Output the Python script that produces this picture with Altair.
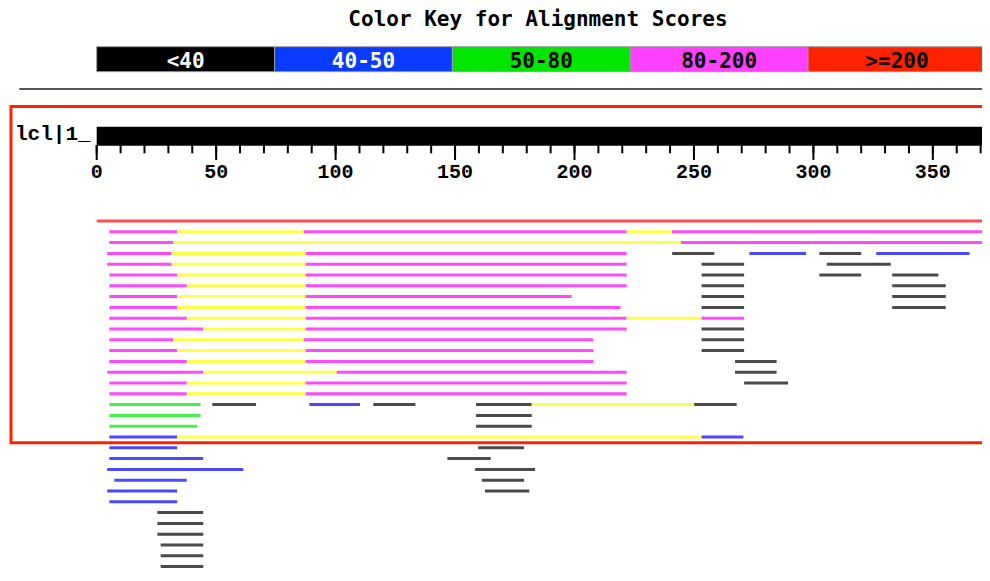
import altair as alt
import pandas as pd

# ---------------- data ----------------
title_text = "Color Key for Alignment Scores"
legend_labels = ["<40", "40-50", "50-80", "80-200", ">=200"]
query_name = "lcl|1_"
query_length = 376
major_ticks = [0, 50, 100, 150, 200, 250, 300, 350]
minor_ticks = list(range(0, 371, 10))

# one line per hit row (row 0 = best hit)
seg_row = [
    0,
    1, 1, 1, 1, 1,
    2, 2, 2,
    3, 3, 3, 3, 3, 3, 3,
    4, 4, 4, 4, 4,
    5, 5, 5, 5, 5, 5,
    6, 6, 6, 6, 6,
    7, 7, 7, 7, 7,
    8, 8, 8, 8, 8,
    9, 9, 9, 9, 9,
    10, 10, 10, 10,
    11, 11, 11, 11,
    12, 12, 12, 12,
    13, 13, 13, 13,
    14, 14, 14, 14,
    15, 15, 15, 15,
    16, 16, 16,
    17, 17, 17, 17, 17, 17, 17,
    18, 18,
    19, 19,
    20, 20, 20,
    21, 21,
    22, 22,
    23, 23,
    24, 24,
    25, 25,
    26,
    27, 28, 29, 30, 31, 32, 33,
]
seg_start = [
    0,
    5.3, 33.7, 86.6, 221.8, 240.8,
    5.3, 32.1, 244.6,
    4.4, 31.4, 87.5, 240.9, 273.2, 302.5, 326.3,
    4.4, 31.4, 87.5, 253.2, 305.6,
    5.3, 33.7, 87.5, 253.2, 302.5, 333.0,
    5.3, 37.7, 87.5, 253.2, 333.0,
    5.3, 33.7, 87.5, 253.2, 333.0,
    5.3, 33.7, 87.5, 253.2, 333.0,
    5.3, 37.7, 87.5, 221.8, 253.2,
    5.3, 44.6, 87.5, 253.2,
    5.3, 32.1, 86.6, 253.2,
    5.3, 33.7, 87.5, 253.2,
    5.3, 37.7, 87.5, 267.2,
    4.4, 44.6, 100.5, 267.2,
    5.3, 37.7, 87.5, 271.0,
    5.3, 37.7, 87.5,
    5.3, 48.4, 89.0, 115.8, 158.8, 182.1, 250.1,
    5.3, 158.8,
    5.3, 158.8,
    5.3, 33.7, 253.2,
    5.3, 159.7,
    5.3, 146.8,
    4.4, 158.4,
    7.4, 161.2,
    4.4, 162.5,
    5.3,
    25.4, 25.4, 25.4, 26.8, 26.8, 26.8, 27.5,
]
seg_end = [
    373,
    33.7, 86.6, 221.8, 240.8, 373,
    32.1, 244.6, 373,
    31.4, 87.5, 221.8, 258.5, 296.9, 320.0, 365.3,
    31.4, 87.5, 221.8, 271.0, 332.4,
    33.7, 87.5, 221.8, 271.0, 320.0, 352.3,
    37.7, 87.5, 221.8, 271.0, 355.4,
    33.7, 87.5, 198.8, 271.0, 355.4,
    33.7, 87.5, 219.3, 271.0, 355.4,
    37.7, 87.5, 221.8, 253.2, 271.0,
    44.6, 87.5, 221.8, 271.0,
    32.1, 86.6, 207.9, 271.0,
    33.7, 87.5, 207.9, 271.0,
    37.7, 87.5, 207.9, 284.6,
    44.6, 100.5, 221.8, 284.6,
    37.7, 87.5, 221.8, 289.4,
    37.7, 87.5, 221.8,
    43.5, 66.7, 110.2, 133.4, 182.1, 250.1, 267.9,
    43.5, 182.1,
    42.1, 182.1,
    33.7, 253.2, 270.7,
    33.7, 178.9,
    44.6, 164.9,
    61.4, 183.5,
    37.7, 178.9,
    33.7, 181.1,
    33.7,
    44.6, 44.6, 44.6, 44.6, 44.6, 44.6, 49.1,
]
seg_class = [
    ">=200",
    "80-200", "link", "80-200", "link", "80-200",
    "80-200", "link", "80-200",
    "80-200", "link", "80-200", "<40", "40-50", "<40", "40-50",
    "80-200", "link", "80-200", "<40", "<40",
    "80-200", "link", "80-200", "<40", "<40", "<40",
    "80-200", "link", "80-200", "<40", "<40",
    "80-200", "link", "80-200", "<40", "<40",
    "80-200", "link", "80-200", "<40", "<40",
    "80-200", "link", "80-200", "link", "80-200",
    "80-200", "link", "80-200", "<40",
    "80-200", "link", "80-200", "<40",
    "80-200", "link", "80-200", "<40",
    "80-200", "link", "80-200", "<40",
    "80-200", "link", "80-200", "<40",
    "80-200", "link", "80-200", "<40",
    "80-200", "link", "80-200",
    "50-80", "<40", "40-50", "<40", "<40", "link", "<40",
    "50-80", "<40",
    "50-80", "<40",
    "40-50", "link", "40-50",
    "40-50", "<40",
    "40-50", "<40",
    "40-50", "<40",
    "40-50", "<40",
    "40-50", "<40",
    "40-50",
    "<40", "<40", "<40", "<40", "<40", "<40", "<40",
]

# ---------------- styles / layout ----------------
key_fill = {"<40": "#000000", "40-50": "#0a3cff", "50-80": "#00e600",
            "80-200": "#ff40ff", ">=200": "#ff2200"}
key_text = {"<40": "white", "40-50": "white", "50-80": "black",
            "80-200": "black", ">=200": "black"}
line_color = {"<40": "#4a4a4a", "40-50": "#4848ff", "50-80": "#48ee48",
              "80-200": "#ff48ff", ">=200": "#ff5050", "link": "#ffff48"}

W, H = 974, 560
PX_PER_UNIT = 2.389
X0 = 88.7
ROW0, ROW_STEP = 213.0, 10.8
x_dom = [-X0 / PX_PER_UNIT, (W - X0) / PX_PER_UNIT]
y_dom = [-ROW0 / ROW_STEP, (H - ROW0) / ROW_STEP]
xs = alt.Scale(domain=x_dom, nice=False, zero=False)
ys = alt.Scale(domain=y_dom, nice=False, zero=False, reverse=True)
KEY_SPAN = 372.2
step = KEY_SPAN / len(legend_labels)

key_df = pd.DataFrame({
    "label": legend_labels,
    "start": [i * step for i in range(len(legend_labels))],
    "end": [(i + 1) * step for i in range(len(legend_labels))],
})
key_df["mid"] = (key_df["start"] + key_df["end"]) / 2
key_df["fill"] = key_df["label"].map(key_fill)
key_df["tc"] = key_df["label"].map(key_text)

seg_df = pd.DataFrame({"row": seg_row, "start": seg_start, "end": seg_end,
                       "cls": seg_class})
seg_df["hex"] = seg_df["cls"].map(line_color)

one = pd.DataFrame({"t": [title_text]})
qdf = pd.DataFrame({"name": [query_name], "s": [0], "e": [query_length]})
major_df = pd.DataFrame({"v": major_ticks, "lab": [str(v) for v in major_ticks]})
minor_df = pd.DataFrame({"v": minor_ticks})

MONO = "DejaVu Sans Mono"
SERIFMONO = "Liberation Mono"

title = alt.Chart(one).mark_text(font=MONO, fontWeight="bold", fontSize=21,
                                 align="center", baseline="alphabetic",
                                 color="black").encode(
    x=alt.value(530), y=alt.value(17.7), text="t:N")

key_rect = alt.Chart(key_df).mark_rect(stroke="#9a9a9a", strokeWidth=1).encode(
    x=alt.X("start:Q", scale=xs, axis=None), x2="end:Q",
    y=alt.value(38.7), y2=alt.value(63.7),
    color=alt.Color("fill:N", scale=None))

key_txt = alt.Chart(key_df).mark_text(font=MONO, fontWeight="bold", fontSize=21,
                                      align="center", baseline="alphabetic").encode(
    x=alt.X("mid:Q", scale=xs, axis=None), y=alt.value(60),
    text="label:N", color=alt.Color("tc:N", scale=None))

sep = alt.Chart(one).mark_rule(color="#555555", strokeWidth=2).encode(
    x=alt.value(11.3), x2=alt.value(W), y=alt.value(81))

frame = alt.Chart(one).mark_rect(fillOpacity=0, stroke="#ff2200", strokeWidth=3).encode(
    x=alt.value(3), x2=alt.value(W + 30), y=alt.value(98.5), y2=alt.value(434.7))

qname = alt.Chart(qdf).mark_text(font=SERIFMONO, fontWeight="bold", fontSize=21,
                                 align="left", baseline="alphabetic",
                                 color="black").encode(
    x=alt.value(7), y=alt.value(132), text="name:N")

qbar = alt.Chart(qdf).mark_rect(color="black").encode(
    x=alt.X("s:Q", scale=xs, axis=None), x2="e:Q",
    y=alt.value(118.7), y2=alt.value(137.7))

minor = alt.Chart(minor_df).mark_rule(color="black", strokeWidth=2).encode(
    x=alt.X("v:Q", scale=xs, axis=None), y=alt.value(137.0), y2=alt.value(145.3))

major = alt.Chart(major_df).mark_rule(color="black", strokeWidth=2).encode(
    x=alt.X("v:Q", scale=xs, axis=None), y=alt.value(137.0), y2=alt.value(152))

major_lab = alt.Chart(major_df).mark_text(font=SERIFMONO, fontWeight="bold",
                                          fontSize=20, align="center",
                                          baseline="alphabetic",
                                          color="black").encode(
    x=alt.X("v:Q", scale=xs, axis=None), y=alt.value(170), text="lab:N")

segs = alt.Chart(seg_df).mark_rule(strokeWidth=3, strokeCap="butt").encode(
    x=alt.X("start:Q", scale=xs, axis=None), x2="end:Q",
    y=alt.Y("row:Q", scale=ys, axis=None),
    color=alt.Color("hex:N", scale=None))

chart = alt.layer(
    title, key_rect, key_txt, sep, frame, qname, qbar, minor, major, major_lab, segs
).properties(
    width=W, height=H, padding=0,
    autosize=alt.AutoSizeParams(type="none"),
    background="white",
).configure_view(stroke=None)

chart.save("out.html", embed_options={"renderer": "svg", "actions": False})
